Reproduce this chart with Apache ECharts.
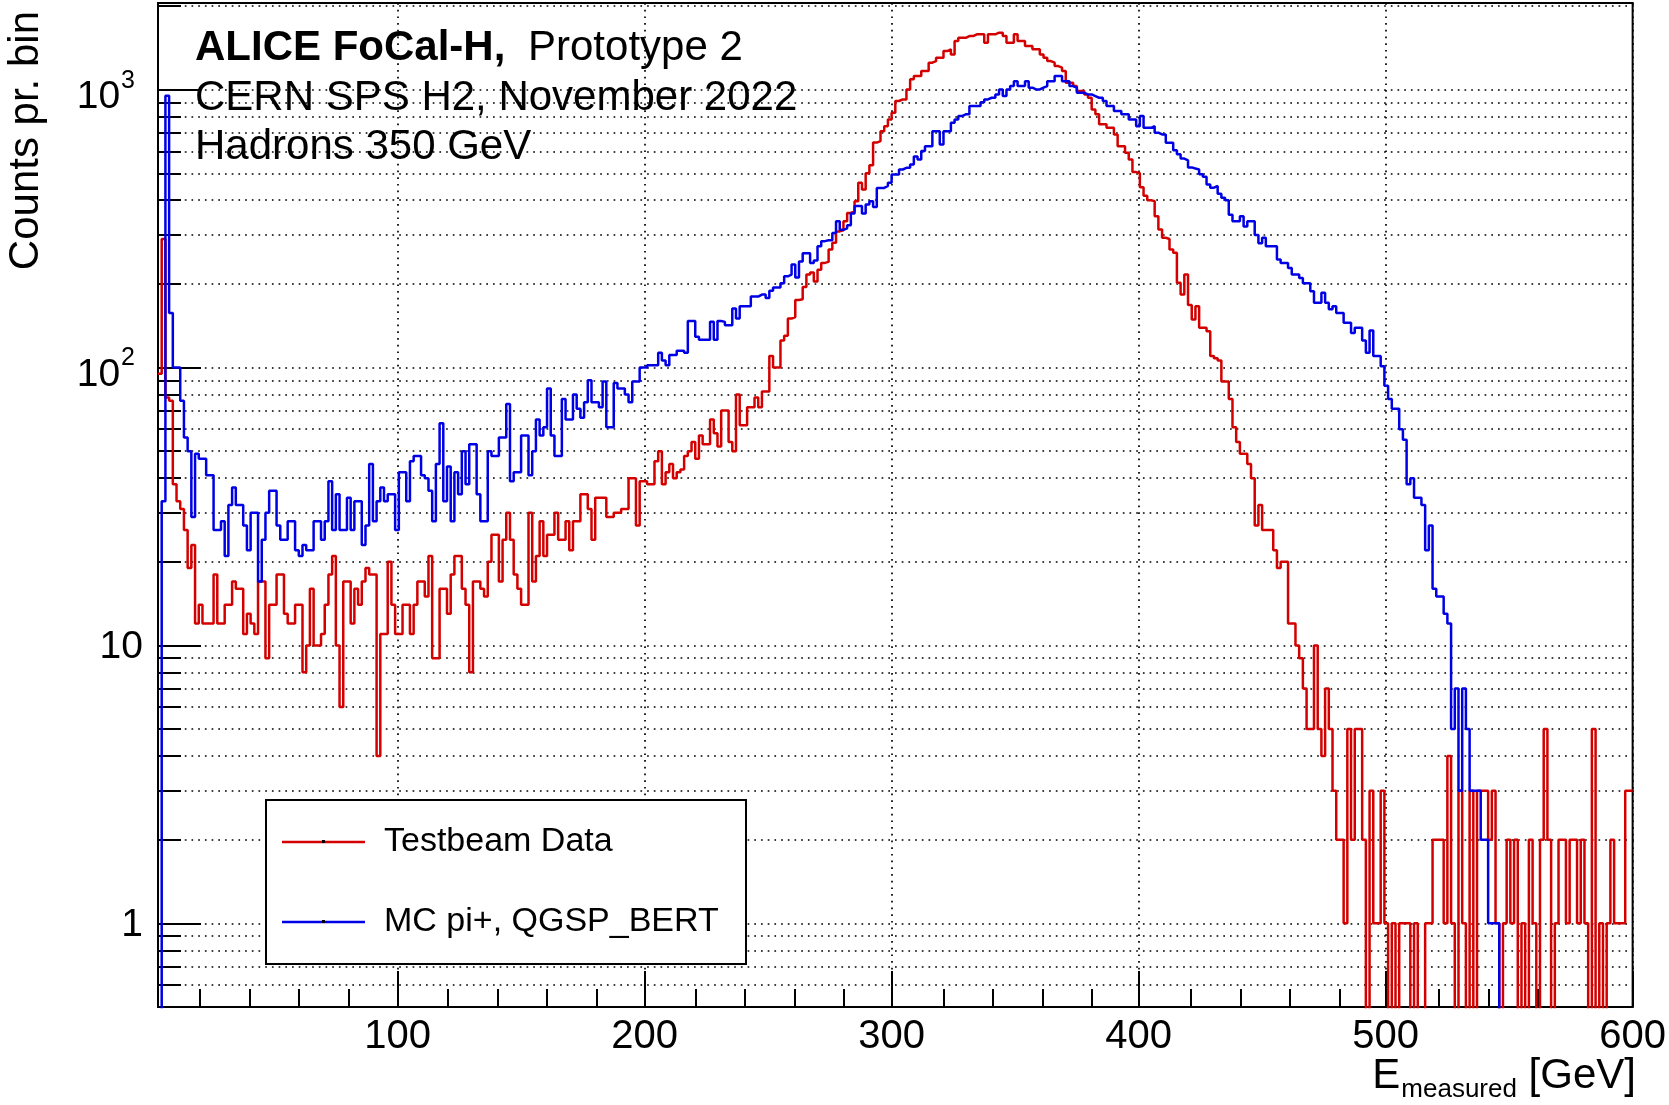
<!DOCTYPE html>
<html>
<head>
<meta charset="utf-8">
<title>ALICE FoCal-H Prototype 2 - hadron energy response</title>
<script src="https://cdn.jsdelivr.net/npm/echarts@6/dist/echarts.min.js"></script>
<style>
  html, body { margin: 0; padding: 0; background: #ffffff; }
  #chart { width: 1669px; height: 1105px; }
</style>
</head>
<body>
<div id="chart"></div>
<script>
// Histogram binning (GeV): the first drawn bin starts at 3 GeV
const binStart = 3;
const binWidth = 1.5;

// Testbeam data, counts per 1.5 GeV bin from 3 GeV upwards
const testbeamCounts = [
  95, 290, 78, 76, 38, 33, 31, 26, 19, 23,
  12, 14, 12, 12, 12, 18, 12, 12, 14, 14,
  17, 16, 16, 11, 13, 12, 11, 17, 17, 9,
  14, 14, 18, 18, 13, 12, 12, 14, 14, 8,
  10, 16, 10, 10, 11, 14, 18, 21, 10, 6,
  17, 17, 12, 16, 14, 17, 19, 18, 18, 4,
  11, 11, 20, 14, 11, 11, 14, 14, 11, 14,
  17, 17, 15, 21, 9, 9, 16, 16, 13, 18,
  21, 21, 16, 14, 8, 17, 17, 16, 15, 20,
  25, 25, 17, 24, 30, 24, 18, 16, 14, 14,
  30, 17, 21, 28, 21, 25, 25, 30, 24, 24,
  28, 22, 28, 28, 35, 35, 31, 24, 34, 34,
  34, 29, 29, 30, 30, 31, 31, 40, 40, 27,
  39, 39, 38, 38, 46, 50, 38, 42, 45, 40,
  42, 43, 48, 50, 54, 47, 57, 53, 53, 65,
  58, 52, 70, 70, 54, 50, 80, 62, 62, 72,
  72, 78, 72, 82, 82, 110, 100, 100, 125, 130,
  150, 152, 175, 176, 195, 216, 220, 204, 225, 238,
  240, 266, 281, 309, 312, 336, 360, 365, 397, 462,
  437, 500, 535, 645, 653, 709, 739, 781, 826, 910,
  922, 922, 1002, 1089, 1119, 1119, 1166, 1166, 1250, 1267,
  1302, 1302, 1376, 1396, 1339, 1495, 1537, 1537, 1559, 1559,
  1581, 1581, 1581, 1475, 1581, 1581, 1603, 1603, 1559, 1475,
  1475, 1581, 1495, 1495, 1435, 1435, 1396, 1396, 1339, 1302,
  1267, 1250, 1216, 1199, 1166, 1059, 1059, 1030, 988, 988,
  961, 935, 849, 815, 750, 750, 729, 729, 690, 626,
  626, 593, 561, 505, 500, 445, 415, 400, 397, 350,
  314, 293, 290, 266, 259, 202, 183, 216, 168, 149,
  166, 139, 139, 135, 110, 108, 106, 89, 89, 77,
  61, 54, 49, 49, 45, 40, 27, 32, 26, 26,
  26, 22, 19, 20, 20, 12, 12, 10, 9, 7,
  5, 5, 10, 5, 4, 7, 5, 3, 2, 2,
  1, 5, 2, 5, 5, 2, 0, 3, 1, 1,
  3, 1, 0, 1, 0, 1, 1, 1, 0, 1,
  0, 0, 1, 1, 2, 2, 2, 1, 4, 1,
  0, 3, 1, 0, 3, 0, 3, 3, 3, 2,
  3, 1, 0, 1, 2, 1, 2, 0, 1, 0,
  2, 1, 0, 2, 5, 2, 0, 1, 2, 2,
  1, 2, 2, 1, 2, 1, 0, 5, 0, 1,
  0, 1, 2, 1, 1, 1, 3, 3
];

// Geant4 simulation (pi+, QGSP_BERT), same binning
const mcCounts = [
  0, 33, 950, 157, 100, 100, 76, 56, 50, 29,
  49, 47, 47, 41, 41, 26, 26, 28, 21, 32,
  37, 32, 32, 27, 22, 30, 30, 17, 24, 30,
  36, 36, 27, 24, 24, 28, 28, 22, 21, 23,
  22, 22, 28, 28, 24, 28, 39, 26, 35, 26,
  26, 34, 26, 33, 33, 23, 27, 45, 28, 33,
  37, 33, 35, 35, 26, 42, 42, 33, 46, 48,
  48, 41, 40, 36, 28, 45, 63, 33, 44, 28,
  42, 35, 50, 38, 53, 53, 35, 28, 28, 50,
  48, 48, 56, 56, 74, 39, 42, 42, 57, 57,
  41, 50, 65, 57, 61, 84, 57, 48, 48, 77,
  65, 65, 80, 71, 66, 75, 90, 75, 75, 72,
  89, 61, 61, 88, 84, 84, 80, 75, 89, 89,
  100, 100, 102, 102, 102, 113, 106, 102, 111, 111,
  115, 115, 113, 147, 147, 129, 126, 126, 126, 146,
  126, 147, 146, 142, 142, 163, 150, 166, 166, 166,
  180, 180, 183, 183, 178, 189, 194, 194, 201, 213,
  216, 235, 211, 241, 258, 258, 238, 243, 273, 285,
  287, 287, 305, 336, 313, 317, 325, 358, 381, 381,
  358, 386, 397, 378, 443, 443, 450, 462, 495, 495,
  516, 523, 523, 538, 575, 560, 601, 626, 626, 709,
  709, 635, 709, 709, 760, 780, 803, 815, 815, 873,
  873, 873, 900, 922, 935, 935, 960, 1002, 948, 1002,
  1030, 1073, 1030, 1030, 1073, 1016, 1002, 1002, 1016, 1030,
  1073, 1073, 1119, 1119, 1073, 1073, 1030, 1016, 974, 974,
  961, 961, 948, 935, 935, 910, 873, 873, 837, 837,
  815, 815, 781, 781, 739, 803, 729, 729, 739, 700,
  690, 690, 644, 644, 605, 585, 565, 557, 525, 520,
  516, 496, 486, 456, 444, 450, 422, 408, 400, 355,
  336, 336, 350, 322, 336, 336, 300, 280, 293, 273,
  273, 273, 245, 238, 238, 228, 216, 216, 210, 201,
  201, 188, 171, 171, 186, 171, 162, 166, 157, 157,
  145, 145, 133, 139, 139, 125, 113, 136, 110, 110,
  101, 86, 77, 71, 71, 60, 55, 38, 40, 34,
  34, 32, 22, 27, 16, 15, 15, 13, 12, 5,
  7, 3, 7, 5, 3, 3, 3, 2, 2, 1,
  1, 1, 0, 0, 0, 0, 0, 0, 0, 0,
  0, 0, 0, 0, 0, 0, 0, 0, 0, 0,
  0, 0, 0, 0, 0, 0, 0, 0, 0, 0,
  0, 0, 0, 0, 0, 0, 0, 0
];

// Axis ticks
const xMajorTicks = [100, 200, 300, 400, 500, 600];
const xMinorTicks = [20, 40, 60, 80, 120, 140, 160, 180, 220, 240, 260, 280,
                     320, 340, 360, 380, 420, 440, 460, 480, 520, 540, 560, 580];
const yMajorTicks = [1, 10, 100, 1000];
const yMinorTicks = [0.6, 0.7, 0.8, 0.9, 2, 3, 4, 5, 6, 7, 8, 9,
                     20, 30, 40, 50, 60, 70, 80, 90,
                     200, 300, 400, 500, 600, 700, 800, 900, 2000];

const FONT = '"Liberation Sans", Arial, Helvetica, sans-serif';
const RED = '#d40000';
const BLUE = '#0000e6';
const X_MIN = 3, X_MAX = 600, Y_MIN = 0.5, Y_MAX = 2050;
// empty bins sit below the log-axis floor and are clipped away
const EMPTY_BIN_LEVEL = 0.05;

// Outline of a histogram: one horizontal segment per bin
function histogramOutline(counts) {
  const pts = [];
  counts.forEach((c, i) => {
    const lo = binStart + i * binWidth;
    const hi = lo + binWidth;
    const v = c > 0 ? c : EMPTY_BIN_LEVEL;
    pts.push([lo, v], [hi, v]);
  });
  return pts;
}

const gridRect = { left: 158, top: 3, right: 32, bottom: 98 };
const dotted = { color: '#000', width: 1.7, type: [1.7, 5] };
const tickLine = { color: '#000', width: 2 };

const chart = echarts.init(document.getElementById('chart'), null, { renderer: 'canvas' });

chart.setOption({
  animation: false,
  backgroundColor: '#ffffff',
  grid: [
    Object.assign({ show: true, borderColor: '#000', borderWidth: 2, backgroundColor: 'transparent' }, gridRect),
    Object.assign({ show: false }, gridRect)
  ],
  xAxis: [
    {
      type: 'value', gridIndex: 0, min: X_MIN, max: X_MAX, position: 'bottom',
      axisLine: { show: true, onZero: false, lineStyle: { color: '#000', width: 2 } },
      axisTick: { show: true, inside: true, length: 36, customValues: xMajorTicks, lineStyle: tickLine },
      axisLabel: { show: true, customValues: xMajorTicks, fontSize: 40, fontFamily: FONT, color: '#000', margin: 10 },
      splitLine: { show: true, lineStyle: dotted }
    },
    {
      type: 'value', gridIndex: 1, min: X_MIN, max: X_MAX, position: 'bottom',
      axisLine: { show: false },
      axisTick: { show: true, inside: true, length: 18, customValues: xMinorTicks, lineStyle: tickLine },
      axisLabel: { show: false },
      splitLine: { show: false }
    }
  ],
  yAxis: [
    {
      type: 'log', logBase: 10, gridIndex: 0, min: Y_MIN, max: Y_MAX, position: 'left',
      axisLine: { show: true, onZero: false, lineStyle: { color: '#000', width: 2 } },
      axisTick: { show: true, inside: true, length: 43, customValues: yMajorTicks, lineStyle: tickLine },
      axisLabel: {
        show: true, customValues: yMajorTicks, margin: 15,
        formatter: function (v) {
          const e = Math.round(Math.log10(v));
          return e >= 2 ? '{b|10}{s|' + e + '}' : '{n|' + Math.round(v) + '}';
        },
        rich: {
          n: { fontSize: 39, fontFamily: FONT, color: '#000', lineHeight: 39, padding: [4, 0, 0, 0] },
          b: { fontSize: 39, fontFamily: FONT, color: '#000', lineHeight: 39, verticalAlign: 'bottom' },
          s: { fontSize: 25, fontFamily: FONT, color: '#000', lineHeight: 55, verticalAlign: 'top', padding: [6, 8, 0, 1] }
        }
      },
      splitLine: { show: true, lineStyle: dotted }
    },
    {
      type: 'log', logBase: 10, gridIndex: 1, min: Y_MIN, max: Y_MAX, position: 'left',
      axisLine: { show: false },
      axisTick: { show: true, inside: true, length: 23, customValues: yMinorTicks, lineStyle: tickLine },
      axisLabel: { show: false },
      splitLine: { show: true, lineStyle: dotted }
    }
  ],
  legend: {
    orient: 'vertical', left: 282, top: 822, padding: 0, itemGap: 40,
    itemWidth: 83, itemHeight: 2.5, icon: 'rect', z: 30,
    textStyle: { fontSize: 34, fontFamily: FONT, color: '#000', lineHeight: 40, padding: [0, 0, 0, 14] },
    data: ['Testbeam Data', 'MC pi+, QGSP_BERT']
  },
  series: [
    {
      name: 'Testbeam Data', type: 'line', xAxisIndex: 0, yAxisIndex: 0,
      data: histogramOutline(testbeamCounts),
      symbol: 'none', showSymbol: false, clip: true, z: 3,
      lineStyle: { color: RED, width: 2.5 }, itemStyle: { color: RED }
    },
    {
      name: 'MC pi+, QGSP_BERT', type: 'line', xAxisIndex: 0, yAxisIndex: 0,
      data: histogramOutline(mcCounts),
      symbol: 'none', showSymbol: false, clip: true, z: 4,
      lineStyle: { color: BLUE, width: 2.5 }, itemStyle: { color: BLUE }
    }
  ],
  graphic: [
    // legend frame
    { type: 'rect', z: 20, shape: { x: 266, y: 800, width: 480, height: 164 },
      style: { fill: '#ffffff', stroke: '#000', lineWidth: 2 } },
    // small marker dots in the middle of the legend lines
    { type: 'rect', z: 40, shape: { x: 322, y: 840, width: 3, height: 3 }, style: { fill: '#000' } },
    { type: 'rect', z: 40, shape: { x: 322, y: 920, width: 3, height: 3 }, style: { fill: '#000' } },
    // header lines
    { type: 'text', z: 25, x: 195, y: 48,
      style: { text: 'ALICE FoCal-H,', font: 'bold 42px ' + FONT, fill: '#000', align: 'left', verticalAlign: 'middle' } },
    { type: 'text', z: 25, x: 528, y: 48,
      style: { text: 'Prototype 2', font: '42px ' + FONT, fill: '#000', align: 'left', verticalAlign: 'middle' } },
    { type: 'text', z: 25, x: 195, y: 98,
      style: { text: 'CERN SPS H2, November 2022', font: '42px ' + FONT, fill: '#000', align: 'left', verticalAlign: 'middle' } },
    { type: 'text', z: 25, x: 195, y: 147,
      style: { text: 'Hadrons 350 GeV', font: '42px ' + FONT, fill: '#000', align: 'left', verticalAlign: 'middle' } },
    // y axis title
    { type: 'text', z: 25, x: 26, y: 11, rotation: Math.PI / 2,
      style: { text: 'Counts pr. bin', font: '42px ' + FONT, fill: '#000', align: 'right', verticalAlign: 'middle' } },
    // x axis title
    { type: 'text', z: 25, x: 1636, y: 1055,
      style: {
        text: '{e|E}{m|measured}{g| [GeV]}', align: 'right', verticalAlign: 'top', fill: '#000',
        rich: {
          e: { fontSize: 42, fontFamily: FONT, lineHeight: 42, verticalAlign: 'top', fill: '#000' },
          m: { fontSize: 26, fontFamily: FONT, lineHeight: 26, verticalAlign: 'top', padding: [22, 0, 0, 1], fill: '#000' },
          g: { fontSize: 42, fontFamily: FONT, lineHeight: 42, verticalAlign: 'top', fill: '#000' }
        }
      } }
  ]
});
</script>
</body>
</html>
